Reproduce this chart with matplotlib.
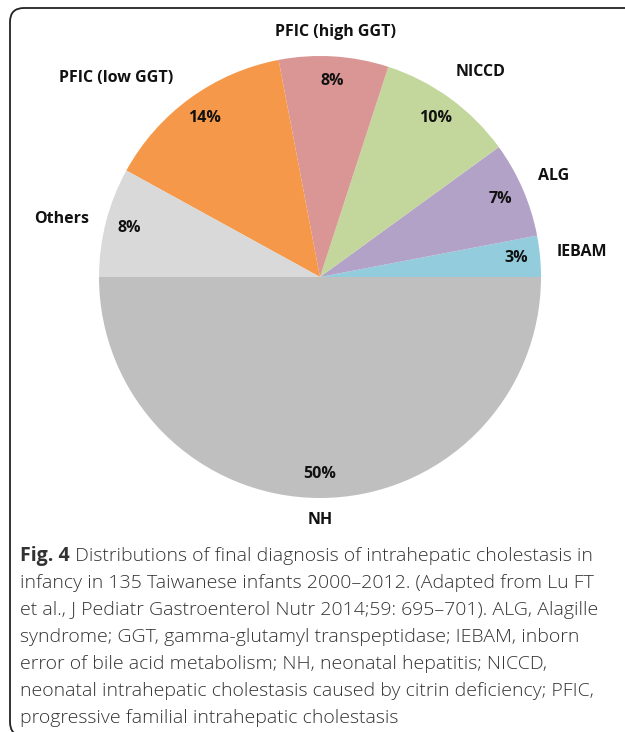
import matplotlib.pyplot as plt
from matplotlib.patches import FancyBboxPatch
import numpy as np

# slices, counter-clockwise from 3 o'clock
labels = ['IEBAM', 'ALG', 'NICCD', 'PFIC (high GGT)', 'PFIC (low GGT)', 'Others', 'NH']
shares = [3, 7, 10, 8, 14, 8, 50]
colors = ['#93CDDD', '#B3A2C7', '#C3D69B', '#D99694', '#F59849', '#D9D9D9', '#BFBFBF']

# outer label placement (radius, angle shift in degrees)
label_r = [1.19, 1.15, 1.18, 1.11, 1.29, 1.20, 1.10]
label_shift = [0, 0, -2, 0, 9.6, 1.7, 0]

caption_bold = 'Fig. 4'
caption_lines = [
    ' Distributions of final diagnosis of intrahepatic cholestasis in',
    'infancy in 135 Taiwanese infants 2000\u20132012. (Adapted from Lu FT',
    'et al., J Pediatr Gastroenterol Nutr 2014;59: 695\u2013701). ALG, Alagille',
    'syndrome; GGT, gamma-glutamyl transpeptidase; IEBAM, inborn',
    'error of bile acid metabolism; NH, neonatal hepatitis; NICCD,',
    'neonatal intrahepatic cholestasis caused by citrin deficiency; PFIC,',
    'progressive familial intrahepatic cholestasis',
]

W, H = 625, 732
fig = plt.figure(figsize=(W / 100, H / 100), dpi=100)

# rounded frame around the figure (in inches, runs off the right edge)
frame = FancyBboxPatch((10 / 100, -0.04), 7.0, (H - 8) / 100 + 0.04,
                       boxstyle='round,pad=0,rounding_size=0.14',
                       transform=fig.dpi_scale_trans, fill=False,
                       edgecolor='#222222', linewidth=1.3)
fig.patches.append(frame)

cx, cy, r = 320, 277, 221
ax = fig.add_axes([(cx - r) / W, 1 - (cy + r) / H, 2 * r / W, 2 * r / H])
wedges, _ = ax.pie(shares, colors=colors, startangle=0, counterclock=True,
                   wedgeprops=dict(linewidth=0))
ax.set_xlim(-1, 1)
ax.set_ylim(-1, 1)
ax.axis('off')

lab_font = dict(family=['Open Sans', 'DejaVu Sans'], fontweight='bold', fontsize=11.5, color='#111111')
for i, w in enumerate(wedges):
    mid = np.deg2rad((w.theta1 + w.theta2) / 2)
    ax.text(0.89 * np.cos(mid), 0.89 * np.sin(mid), '%d%%' % shares[i],
            ha='center', va='center', **lab_font)
    a = mid + np.deg2rad(label_shift[i])
    ax.text(label_r[i] * np.cos(a), label_r[i] * np.sin(a), labels[i],
            ha='center', va='center', clip_on=False, **lab_font)

cap_font = dict(family=['Open Sans', 'DejaVu Sans'], fontsize=14.0, color='#333333')
x0 = 20 / W
y0 = 1 - 556 / H
step = 27 / H
t = fig.text(x0, y0, caption_bold, ha='left', va='center', fontweight='bold', **cap_font)
fig.canvas.draw()
bb = t.get_window_extent()
fig.text(bb.x1 / W, y0, caption_lines[0], ha='left', va='center', fontweight='light', **cap_font)
for k, line in enumerate(caption_lines[1:], start=1):
    fig.text(x0, y0 - k * step, line, ha='left', va='center', fontweight='light', **cap_font)

fig.savefig('out.png', dpi=100)
